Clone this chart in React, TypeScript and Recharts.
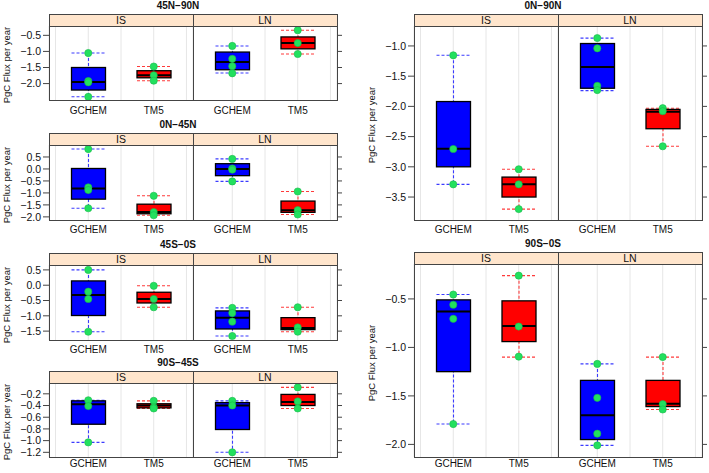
import React from 'react';
import { ComposedChart, Bar, Scatter, XAxis, YAxis, CartesianGrid } from 'recharts';

// box stats per model: [min, lower hinge, median, upper hinge, max], order GCHEM, TM5
const MODELS = ['GCHEM', 'TM5'];
const STRIPS = ['IS', 'LN'];

const BOX_45N_90N_IS = [[-2.41, -2.2, -1.95, -1.5, -1.05], [-1.91, -1.82, -1.74, -1.6, -1.47]];
const PTS_45N_90N_IS = [[-1.05, -1.92, -1.96, -2.41], [-1.47, -1.74, -1.91]];
const BOX_45N_90N_LN = [[-1.67, -1.57, -1.33, -1.02, -0.83], [-1.08, -0.92, -0.74, -0.55, -0.34]];
const PTS_45N_90N_LN = [[-0.83, -1.23, -1.46, -1.68], [-0.34, -0.74, -1.08]];

const BOX_0N_45N_IS = [[-1.64, -1.26, -0.82, 0.02, 0.83], [-1.93, -1.87, -1.8, -1.47, -1.12]];
const PTS_0N_45N_IS = [[0.83, -0.77, -0.88, -1.64], [-1.12, -1.8, -1.93]];
const BOX_0N_45N_LN = [[-0.52, -0.28, 0.0, 0.22, 0.42], [-1.9, -1.81, -1.72, -1.34, -0.94]];
const PTS_0N_45N_LN = [[0.42, 0.02, -0.03, -0.52], [-0.94, -1.72, -1.9]];

const BOX_45S_0S_IS = [[-1.52, -0.99, -0.32, 0.14, 0.5], [-0.72, -0.58, -0.45, -0.23, -0.02]];
const PTS_45S_0S_IS = [[0.5, -0.21, -0.45, -1.52], [-0.02, -0.45, -0.72]];
const BOX_45S_0S_LN = [[-1.66, -1.43, -1.06, -0.84, -0.74], [-1.52, -1.45, -1.4, -1.06, -0.72]];
const PTS_45S_0S_LN = [[-0.74, -0.91, -1.19, -1.66], [-0.72, -1.38, -1.52]];

const BOX_90S_45S_IS = [[-1.03, -0.72, -0.38, -0.32, -0.31], [-0.45, -0.44, -0.4, -0.37, -0.32]];
const PTS_90S_45S_IS = [[-0.31, -0.41, -1.03], [-0.32, -0.43, -0.45]];
const BOX_90S_45S_LN = [[-1.2, -0.81, -0.4, -0.35, -0.32], [-0.45, -0.4, -0.34, -0.21, -0.09]];
const PTS_90S_45S_LN = [[-0.32, -0.4, -1.2], [-0.09, -0.33, -0.45]];

const BOX_0N_90N_IS = [[-3.29, -3.0, -2.7, -1.92, -1.155], [-3.7, -3.5, -3.29, -3.17, -3.04]];
const PTS_0N_90N_IS = [[-1.155, -2.705, -3.29], [-3.04, -3.29, -3.7]];
const BOX_0N_90N_LN = [[-1.74, -1.7, -1.35, -0.96, -0.87], [-2.66, -2.37, -2.09, -2.05, -2.03]];
const PTS_0N_90N_LN = [[-0.87, -1.04, -1.66, -1.73], [-2.03, -2.08, -2.66]];

const BOX_90S_0S_IS = [[-1.79, -1.25, -0.63, -0.51, -0.455], [-1.1, -0.94, -0.78, -0.52, -0.26]];
const PTS_90S_0S_IS = [[-0.455, -0.56, -0.705, -1.79], [-0.26, -0.785, -1.095]];
const BOX_90S_0S_LN = [[-2.01, -1.95, -1.7, -1.34, -1.17], [-1.64, -1.61, -1.58, -1.34, -1.1]];
const PTS_90S_0S_LN = [[-1.17, -1.52, -1.89, -2.01], [-1.1, -1.585, -1.64]];

const DOM_45N_90N = [-2.51, -0.21];
const TICKS_45N_90N = [-2, -1.5, -1, -0.5];
const DOM_0N_45N = [-2.13, 1.0];
const TICKS_0N_45N = [-2, -1.5, -1, -0.5, 0, 0.5];
const DOM_45S_0S = [-1.79, 0.66];
const TICKS_45S_0S = [-1.5, -1, -0.5, 0, 0.5];
const DOM_90S_45S = [-1.28, -0.015];
const TICKS_90S_45S = [-1.2, -1, -0.8, -0.6, -0.4, -0.2];
const DOM_0N_90N = [-3.88, -0.67];
const TICKS_0N_90N = [-3.5, -3, -2.5, -2, -1.5, -1];
const DOM_90S_0S = [-2.13, -0.14];
const TICKS_90S_0S = [-2, -1.5, -1, -0.5];

const FONT = '"Liberation Sans", Arial, Helvetica, sans-serif';
const FILL: Record<string, string> = { GCHEM: '#0000ff', TM5: '#ff0000' };
const DASH: Record<string, string> = { GCHEM: '#3b3bff', TM5: '#ff3b3b' };
const FRAME = '#444';
const SUB_W = 144;

const fmt = (v: number) => v.toFixed(1).replace('-', '\u2212');

function toRows(box: number[][]) {
  return MODELS.map((name, i) => ({
    name,
    whisker: [box[i][0], box[i][4]],
    box: [box[i][1], box[i][3]],
    stats: box[i],
  }));
}

function toPoints(pts: number[][]) {
  return pts.flatMap((arr, i) => arr.map((v) => ({ x: i + 1, y: v })));
}

const WhiskerShape = (props: any) => {
  const { x, y, width, height, payload } = props;
  const top = Math.min(y, y + height);
  const bot = Math.max(y, y + height);
  const cx = x + width / 2;
  const c = DASH[payload.name];
  return (
    <g fill="none">
      <line x1={cx} x2={cx} y1={top} y2={bot} stroke={c} strokeWidth={1.1} strokeDasharray="3 2" />
      <line x1={x} x2={x + width} y1={top} y2={top} stroke={c} strokeWidth={1.1} strokeDasharray="3 2" />
      <line x1={x} x2={x + width} y1={bot} y2={bot} stroke={c} strokeWidth={1.1} strokeDasharray="3 2" />
    </g>
  );
};

const BoxShape = (props: any) => {
  const { x, y, width, height, payload } = props;
  const top = Math.min(y, y + height);
  const h = Math.abs(height);
  const [, q1, med, q3] = payload.stats;
  const my = top + (h * (q3 - med)) / (q3 - q1);
  return (
    <g>
      <rect x={x} y={top} width={width} height={h} fill={FILL[payload.name]} stroke="#000" strokeWidth={1.3} />
      <line x1={x} x2={x + width} y1={my} y2={my} stroke="#000" strokeWidth={2} />
    </g>
  );
};

const Dot = (props: any) => (
  <circle cx={props.cx} cy={props.cy} r={3.6} fill="#22e05e" stroke="#17b84a" strokeWidth={0.6} />
);

function Sub({ box, pts, domain, ticks, plotH, left, labelGap }: any) {
  const isLeft = left;
  const rows = toRows(box);
  const points = toPoints(pts);
  return (
    <ComposedChart
      width={isLeft ? 49 + SUB_W : SUB_W + 8}
      height={plotH + 20}
      data={rows}
      margin={{ top: 0, right: 0, bottom: 0, left: 0 }}
    >
      <CartesianGrid xAxisId="num" vertical horizontal={false} stroke="#e6e6e6" />
      <XAxis
        xAxisId="cat"
        dataKey="name"
        type="category"
        padding={{ left: 6.5, right: 6.5 }}
        axisLine={false}
        tickLine={false}
        tickSize={0}
        tickMargin={labelGap}
        height={20}
        interval={0}
        tick={{ fill: '#111', fontSize: 10, fontFamily: FONT }}
      />
      <XAxis xAxisId="cat2" dataKey="name" type="category" padding={{ left: 6.5, right: 6.5 }} hide />
      <XAxis
        xAxisId="num"
        dataKey="x"
        type="number"
        domain={[0.4, 2.6]}
        ticks={[0.5, 1, 1.5, 2, 2.5]}
        allowDataOverflow
        hide
      />
      <YAxis
        orientation={isLeft ? 'left' : 'right'}
        width={isLeft ? 49 : 8}
        type="number"
        domain={domain}
        ticks={ticks}
        allowDataOverflow
        interval={0}
        axisLine={false}
        tickSize={isLeft ? 6 : 5}
        tickMargin={2}
        tickLine={{ stroke: FRAME }}
        tickFormatter={isLeft ? fmt : () => ''}
        tick={{ fill: '#111', fontSize: 10.5, fontFamily: FONT }}
      />
      <Bar xAxisId="cat2" dataKey="whisker" barSize={34} shape={WhiskerShape} isAnimationActive={false} />
      <Bar xAxisId="cat" dataKey="box" barSize={34} shape={BoxShape} isAnimationActive={false} />
      <Scatter xAxisId="num" data={points} dataKey="y" shape={Dot} isAnimationActive={false} />
    </ComposedChart>
  );
}

function Panel({ title, originX, titleX, stripTop, plotH, labelGap, domain, ticks, is, ln }: any) {
  const plotLeft = originX + 49;
  const plotTop = stripTop + 12;
  return (
    <>
      <div
        style={{
          position: 'absolute',
          left: titleX - 60,
          top: stripTop - 14,
          width: 120,
          lineHeight: '12px',
          textAlign: 'center',
          fontWeight: 'bold',
          fontSize: 10,
          color: '#111',
        }}
      >
        {title}
      </div>
      {STRIPS.map((s, i) => (
        <div
          key={s}
          style={{
            position: 'absolute',
            left: plotLeft + i * SUB_W,
            top: stripTop,
            width: SUB_W,
            height: 12,
            background: '#ffe5cc',
            textAlign: 'center',
            lineHeight: '12px',
            fontSize: 10.5,
            color: '#111',
          }}
        >
          {s}
        </div>
      ))}
      <div
        style={{
          position: 'absolute',
          left: plotLeft - 42 - 80,
          top: plotTop + plotH / 2 + 2 - 6,
          width: 160,
          height: 12,
          lineHeight: '12px',
          textAlign: 'center',
          fontSize: 9.5,
          color: '#111',
          transform: 'rotate(-90deg)',
          transformOrigin: '50% 50%',
        }}
      >
        PgC Flux per year
      </div>
      <div style={{ position: 'absolute', left: originX, top: plotTop }}>
        <Sub box={is[0]} pts={is[1]} domain={domain} ticks={ticks} plotH={plotH} labelGap={labelGap} left />
      </div>
      <div style={{ position: 'absolute', left: plotLeft + SUB_W, top: plotTop }}>
        <Sub box={ln[0]} pts={ln[1]} domain={domain} ticks={ticks} plotH={plotH} labelGap={labelGap} left={false} />
      </div>
      <div
        style={{
          position: 'absolute',
          left: plotLeft,
          top: stripTop,
          width: 2 * SUB_W + 1,
          height: 12 + plotH + 1,
          border: `1px solid ${FRAME}`,
          boxSizing: 'border-box',
          pointerEvents: 'none',
        }}
      />
      <div style={{ position: 'absolute', left: plotLeft, top: plotTop, width: 2 * SUB_W + 1, height: 1, background: FRAME }} />
      <div style={{ position: 'absolute', left: plotLeft + SUB_W, top: stripTop, width: 1, height: 12 + plotH + 1, background: FRAME }} />
    </>
  );
}

const PANELS = [
  { title: '45N\u221290N', originX: 0, titleX: 178, stripTop: 14, plotH: 74, labelGap: 7, domain: DOM_45N_90N, ticks: TICKS_45N_90N,
    is: [BOX_45N_90N_IS, PTS_45N_90N_IS], ln: [BOX_45N_90N_LN, PTS_45N_90N_LN] },
  { title: '0N\u221245N', originX: 0, titleX: 178, stripTop: 133, plotH: 75, labelGap: 6, domain: DOM_0N_45N, ticks: TICKS_0N_45N,
    is: [BOX_0N_45N_IS, PTS_0N_45N_IS], ln: [BOX_0N_45N_LN, PTS_0N_45N_LN] },
  { title: '45S\u22120S', originX: 0, titleX: 178, stripTop: 253, plotH: 75, labelGap: 6, domain: DOM_45S_0S, ticks: TICKS_45S_0S,
    is: [BOX_45S_0S_IS, PTS_45S_0S_IS], ln: [BOX_45S_0S_LN, PTS_45S_0S_LN] },
  { title: '90S\u221245S', originX: 0, titleX: 178, stripTop: 371, plotH: 74, labelGap: 3, domain: DOM_90S_45S, ticks: TICKS_90S_45S,
    is: [BOX_90S_45S_IS, PTS_90S_45S_IS], ln: [BOX_90S_45S_LN, PTS_90S_45S_LN] },
  { title: '0N\u221290N', originX: 365, titleX: 543, stripTop: 14, plotH: 194, labelGap: 6, domain: DOM_0N_90N, ticks: TICKS_0N_90N,
    is: [BOX_0N_90N_IS, PTS_0N_90N_IS], ln: [BOX_0N_90N_LN, PTS_0N_90N_LN] },
  { title: '90S\u22120S', originX: 365, titleX: 543, stripTop: 252, plotH: 193, labelGap: 3, domain: DOM_90S_0S, ticks: TICKS_90S_0S,
    is: [BOX_90S_0S_IS, PTS_90S_0S_IS], ln: [BOX_90S_0S_LN, PTS_90S_0S_LN] },
];

export default function App() {
  return (
    <div
      style={{
        position: 'absolute',
        left: 0,
        top: 0,
        width: 709,
        height: 473,
        overflow: 'hidden',
        background: '#fff',
        fontFamily: FONT,
      }}
    >
      {PANELS.map((p) => (
        <Panel key={p.title} {...p} />
      ))}
    </div>
  );
}
